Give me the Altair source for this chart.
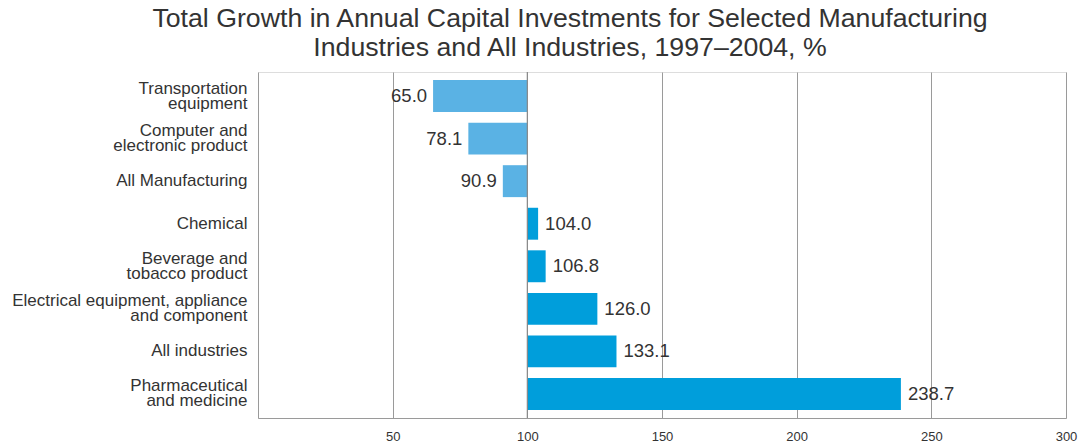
import altair as alt
import pandas as pd

categories = [
    "Transportation|equipment",
    "Computer and|electronic product",
    "All Manufacturing",
    "Chemical",
    "Beverage and|tobacco product",
    "Electrical equipment, appliance|and component",
    "All industries",
    "Pharmaceutical|and medicine",
]
values = [65.0, 78.1, 90.9, 104.0, 106.8, 126.0, 133.1, 238.7]
x_ticks = [50, 100, 150, 200, 250, 300]
base_value = 100

df = pd.DataFrame({"cat": categories, "val": values})
df["base"] = base_value
df["side"] = ["below" if v < base_value else "above" for v in values]
df["lbl"] = [f"{v:.1f}" for v in values]

FONT = "Liberation Sans"

y_enc = alt.Y(
    "cat:N",
    sort=categories,
    title=None,
    scale=alt.Scale(paddingInner=0.25, paddingOuter=0.19),
    axis=alt.Axis(
        labelExpr="split(datum.label, '|')",
        labelFont=FONT,
        labelFontSize=17,
        labelLineHeight=15,
        labelColor="#333333",
        labelPadding=11,
        labelOffset={"condition": {"test": "indexof(datum.value, '|') >= 0", "value": -7.5}, "value": 0},
        ticks=False,
        domain=True,
        domainColor="#9a9a9a",
        grid=False,
        labelLimit=400,
    ),
)

x_enc = alt.X(
    "val:Q",
    title=None,
    scale=alt.Scale(domain=[0, 300], nice=False, zero=False),
    axis=alt.Axis(
        values=x_ticks,
        grid=True,
        gridColor="#9a9a9a",
        gridWidth=1,
        ticks=False,
        domain=True,
        domainColor="#9a9a9a",
        labelFont=FONT,
        labelFontSize=13,
        labelColor="#333333",
        labelPadding=12,
        labelFlush=False,
        labelOverlap=False,
    ),
)

bars = alt.Chart(df).mark_bar().encode(
    y=y_enc,
    x=x_enc,
    x2="base:Q",
    color=alt.Color(
        "side:N",
        scale=alt.Scale(domain=["below", "above"], range=["#5AB2E4", "#009EDB"]),
        legend=None,
    ),
)

base_rule = alt.Chart(df).transform_aggregate(b="mean(base)").mark_rule(
    color="#8a8a8a", strokeWidth=1.2
).encode(x=alt.X("b:Q"))

labels_left = alt.Chart(df).transform_filter("datum.side == 'below'").mark_text(
    align="right", baseline="middle", dx=-6, font=FONT, fontSize=18.5, color="#333333"
).encode(y=alt.Y("cat:N", sort=categories), x="val:Q", text="lbl:N")

labels_right = alt.Chart(df).transform_filter("datum.side == 'above'").mark_text(
    align="left", baseline="middle", dx=7, font=FONT, fontSize=18.5, color="#333333"
).encode(y=alt.Y("cat:N", sort=categories), x="val:Q", text="lbl:N")

chart = (
    alt.layer(bars, base_rule, labels_left, labels_right)
    .properties(
        width=808,
        height=346,
        title=alt.TitleParams(
            text=[
                "Total Growth in Annual Capital Investments for Selected Manufacturing",
                "Industries and All Industries, 1997\u20132004, %",
            ],
            font=FONT,
            fontSize=26.7,
            fontWeight="normal",
            color="#333333",
            lineHeight=29,
            anchor="middle",
            frame="group",
            dx=-92,
            offset=10,
        ),
        autosize=alt.AutoSizeParams(type="none"),
        padding={"left": 258, "top": 72, "right": 16, "bottom": 29},
    )
    .configure_view(stroke=None)
    .configure(background="white")
)

chart.save("out.html", embed_options={"renderer": "svg", "actions": False})
